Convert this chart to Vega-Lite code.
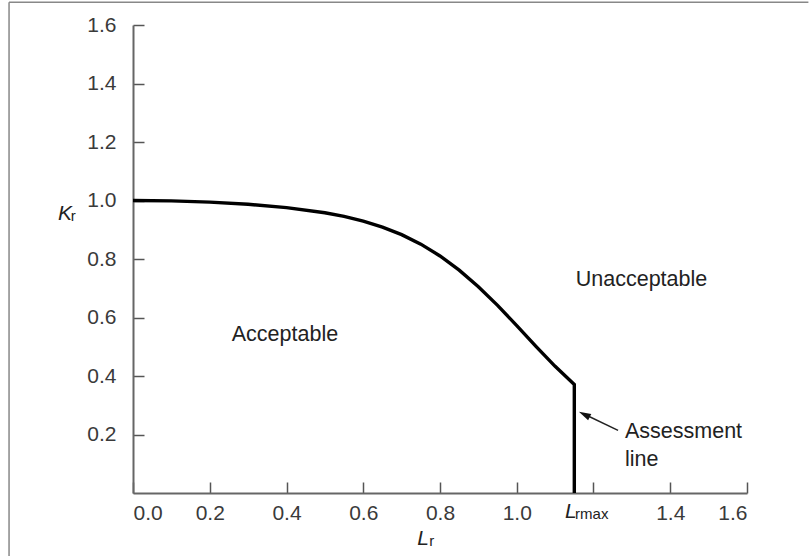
{
  "$schema": "https://vega.github.io/schema/vega-lite/v6.json",
  "width": 614,
  "height": 468,
  "autosize": {"type": "none"},
  "padding": {"left": 133, "top": 25, "right": 62, "bottom": 63},
  "background": "white",
  "config": {
    "view": {"stroke": null},
    "font": "Liberation Sans",
    "axis": {
      "grid": false,
      "domainColor": "#666666",
      "domainWidth": 2,
      "tickColor": "#555555",
      "tickWidth": 1.5,
      "tickSize": -11,
      "labelFont": "Liberation Sans",
      "labelFontSize": 21,
      "labelColor": "#3a3a3a",
      "title": null
    }
  },
  "layer": [
    {
      "data": {"values": [
        {"x": -0.323, "y": 1.678, "x2": 1.76, "y2": 1.678},
        {"x": -0.323, "y": 1.678, "x2": -0.323, "y2": -0.218}
      ]},
      "mark": {"type": "rule", "color": "#888888", "strokeWidth": 1.5, "clip": false},
      "encoding": {
        "x": {"field": "x", "type": "quantitative"},
        "y": {"field": "y", "type": "quantitative"},
        "x2": {"field": "x2"},
        "y2": {"field": "y2"}
      }
    },
    {
      "data": {"values": [
        {"i": 0, "Lr": 0.0, "Kr": 1.0},
        {"i": 1, "Lr": 0.1, "Kr": 0.9986},
        {"i": 2, "Lr": 0.2, "Kr": 0.9944},
        {"i": 3, "Lr": 0.3, "Kr": 0.9871},
        {"i": 4, "Lr": 0.4, "Kr": 0.9758},
        {"i": 5, "Lr": 0.5, "Kr": 0.9582},
        {"i": 6, "Lr": 0.55, "Kr": 0.9458},
        {"i": 7, "Lr": 0.6, "Kr": 0.9297},
        {"i": 8, "Lr": 0.65, "Kr": 0.9090},
        {"i": 9, "Lr": 0.7, "Kr": 0.8834},
        {"i": 10, "Lr": 0.75, "Kr": 0.8508},
        {"i": 11, "Lr": 0.8, "Kr": 0.8105},
        {"i": 12, "Lr": 0.85, "Kr": 0.762},
        {"i": 13, "Lr": 0.9, "Kr": 0.7053},
        {"i": 14, "Lr": 0.95, "Kr": 0.6414},
        {"i": 15, "Lr": 1.0, "Kr": 0.5723},
        {"i": 16, "Lr": 1.05, "Kr": 0.5014},
        {"i": 17, "Lr": 1.1, "Kr": 0.433},
        {"i": 18, "Lr": 1.15, "Kr": 0.3713},
        {"i": 19, "Lr": 1.15, "Kr": 0.0}
      ]},
      "mark": {"type": "line", "color": "black", "strokeWidth": 3.4, "strokeJoin": "miter", "clip": false},
      "encoding": {
        "x": {"field": "Lr", "type": "quantitative",
          "scale": {"domain": [0, 1.6], "nice": false, "zero": false},
          "axis": {"values": [0, 0.2, 0.4, 0.6, 0.8, 1.0, 1.2, 1.4, 1.6],
            "labelExpr": "datum.value == 1.2 ? '' : format(datum.value, '.1f')",
            "labelPadding": 20}},
        "y": {"field": "Kr", "type": "quantitative",
          "scale": {"domain": [0, 1.6], "nice": false, "zero": false},
          "axis": {"values": [0.2, 0.4, 0.6, 0.8, 1.0, 1.2, 1.4, 1.6],
            "format": ".1f", "labelPadding": 28}},
        "order": {"field": "i", "type": "quantitative"}
      }
    },
    {
      "data": {"values": [
        {"x": 1.264, "y": 0.214, "x2": 1.175, "y2": 0.270}
      ]},
      "mark": {"type": "rule", "color": "#222222", "strokeWidth": 1.5},
      "encoding": {
        "x": {"field": "x", "type": "quantitative"},
        "y": {"field": "y", "type": "quantitative"},
        "x2": {"field": "x2"},
        "y2": {"field": "y2"}
      }
    },
    {
      "data": {"values": [{"x": 1.162, "y": 0.278}]},
      "mark": {"type": "point", "shape": "M0,0L-0.65,2.2L0.65,2.2Z", "filled": true, "color": "#111111", "size": 120, "angle": 296.6, "opacity": 1, "strokeWidth": 0},
      "encoding": {
        "x": {"field": "x", "type": "quantitative"},
        "y": {"field": "y", "type": "quantitative"}
      }
    },
    {
      "data": {"values": [
        {"x": 1.325, "y": 0.707, "t": "Unacceptable"},
        {"x": 0.396, "y": 0.521, "t": "Acceptable"}
      ]},
      "mark": {"type": "text", "fontSize": 21.5, "align": "center", "baseline": "alphabetic", "color": "#222222", "font": "Liberation Sans"},
      "encoding": {
        "x": {"field": "x", "type": "quantitative"},
        "y": {"field": "y", "type": "quantitative"},
        "text": {"field": "t"}
      }
    },
    {
      "data": {"values": [
        {"x": 1.282, "y": 0.187, "t": ["Assessment", "line"]}
      ]},
      "mark": {"type": "text", "fontSize": 21.5, "align": "left", "baseline": "alphabetic", "lineHeight": 28, "color": "#222222", "font": "Liberation Sans"},
      "encoding": {
        "x": {"field": "x", "type": "quantitative"},
        "y": {"field": "y", "type": "quantitative"},
        "text": {"field": "t"}
      }
    },
    {
      "data": {"values": [
        {"x": -0.177, "y": 0.932, "t": "K"},
        {"x": 0.756, "y": -0.179, "t": "L"},
        {"x": 1.141, "y": -0.0865, "t": "L"}
      ]},
      "mark": {"type": "text", "fontSize": 21, "fontStyle": "italic", "align": "center", "baseline": "alphabetic", "color": "#222222", "font": "Liberation Sans", "clip": false},
      "encoding": {
        "x": {"field": "x", "type": "quantitative"},
        "y": {"field": "y", "type": "quantitative"},
        "text": {"field": "t"}
      }
    },
    {
      "data": {"values": [
        {"x": -0.162, "y": 0.929, "t": "r"},
        {"x": 0.772, "y": -0.182, "t": "r"},
        {"x": 1.152, "y": -0.09, "t": "rmax"}
      ]},
      "mark": {"type": "text", "fontSize": 15, "align": "left", "baseline": "alphabetic", "color": "#222222", "font": "Liberation Sans", "clip": false},
      "encoding": {
        "x": {"field": "x", "type": "quantitative"},
        "y": {"field": "y", "type": "quantitative"},
        "text": {"field": "t"}
      }
    }
  ]
}
